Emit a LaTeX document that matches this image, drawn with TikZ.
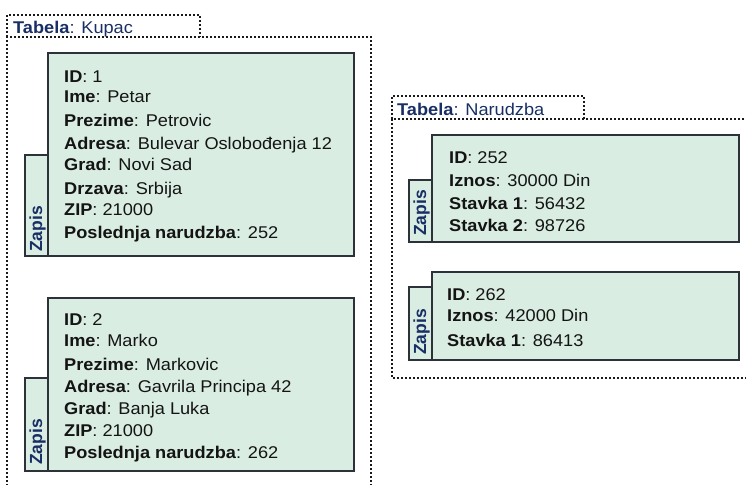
\documentclass[tikz,border=0pt]{standalone}
\usepackage{fontspec}
\setmainfont{Liberation Sans}[FakeStretch=1.07]
\newfontfamily\zapisfont{Liberation Sans}
\definecolor{navy}{RGB}{24,46,100}
\definecolor{recfill}{RGB}{218,237,226}
\definecolor{recline}{RGB}{45,50,58}
\definecolor{dotline}{RGB}{25,25,25}
\begin{document}
\begin{tikzpicture}[x=1pt,y=-1pt,
  tbl/.style={draw=dotline,line width=2.4pt,dash pattern=on 2pt off 2pt},
  recbox/.style={draw=recline,fill=recfill,line width=2.4pt,anchor=north west,inner sep=0pt},
  field/.style={anchor=base west,inner sep=0pt,font=\fontsize{17}{19}\selectfont,text=black!92},
  ttl/.style={anchor=base west,inner sep=0pt,font=\fontsize{17}{19}\selectfont,text=navy},
  zap/.style={anchor=base west,inner sep=0pt,rotate=90,font=\zapisfont\fontsize{17.5}{19}\selectfont\bfseries,text=navy}]
\useasboundingbox (0,0) rectangle (746,484);
\begin{scope}
\clip (0,0) rectangle (746,484);
% Kupac table
\coordinate (k1) at (7,37); \coordinate (k2) at (7,15); \coordinate (k3) at (200,15); \coordinate (k4) at (200,37);
\coordinate (k5) at (7,490); \coordinate (k6) at (371,37); \coordinate (k7) at (371,490);
\draw[tbl] (k1) -- (k2) -- (k3) -- (k4);
\draw[tbl] (k5) -- (k1) -- (k6) -- (k7);
\node[ttl] (kt) at (13,33.3) {\textbf{Tabela}: Kupac};
% Narudzba table
\coordinate (n1) at (392,119); \coordinate (n2) at (392,96); \coordinate (n3) at (584,96); \coordinate (n4) at (584,119);
\coordinate (n5) at (752,119); \coordinate (n6) at (392,378); \coordinate (n7) at (752,378);
\draw[tbl] (n1) -- (n2) -- (n3) -- (n4);
\draw[tbl] (n5) -- (n1) -- (n6) -- (n7);
\node[ttl] (nt) at (397,115) {\textbf{Tabela}: Narudzba};
\end{scope}
% Record 1
\node[recbox,minimum width=23pt,minimum height=101pt] (t1) at (24,154) {};
\node[recbox,minimum width=306pt,minimum height=203pt] (r1) at (47,52) {};
\node[zap] (z1) at (42,252) {Zapis};
\node[field] (a1) at (64,82.3) {\textbf{ID}: 1};
\node[field] (a2) at (64,102.7) {\textbf{Ime}: Petar};
\node[field] (a3) at (64,126) {\textbf{Prezime}: Petrovic};
\node[field] (a4) at (64,149) {\textbf{Adresa}: Bulevar Oslobođenja 12};
\node[field] (a5) at (64,170) {\textbf{Grad}: Novi Sad};
\node[field] (a6) at (64,194) {\textbf{Drzava}: Srbija};
\node[field] (a7) at (64,215) {\textbf{ZIP}: 21000};
\node[field] (a8) at (64,238) {\textbf{Poslednja narudzba}: 252};
% Record 2
\node[recbox,minimum width=23pt,minimum height=93pt] (t2) at (24,377) {};
\node[recbox,minimum width=306pt,minimum height=173pt] (r2) at (47,297) {};
\node[zap] (z2) at (42,465) {Zapis};
\node[field] (b1) at (64,325) {\textbf{ID}: 2};
\node[field] (b2) at (64,346.7) {\textbf{Ime}: Marko};
\node[field] (b3) at (64,370.7) {\textbf{Prezime}: Markovic};
\node[field] (b4) at (64,392.3) {\textbf{Adresa}: Gavrila Principa 42};
\node[field] (b5) at (64,414) {\textbf{Grad}: Banja Luka};
\node[field] (b6) at (64,436.7) {\textbf{ZIP}: 21000};
\node[field] (b7) at (64,458.3) {\textbf{Poslednja narudzba}: 262};
% Record 3
\node[recbox,minimum width=23pt,minimum height=62pt] (t3) at (408,179) {};
\node[recbox,minimum width=307pt,minimum height=107pt] (r3) at (431,134) {};
\node[zap] (z3) at (426,236) {Zapis};
\node[field] (c1) at (449,163.3) {\textbf{ID}: 252};
\node[field] (c2) at (449,186) {\textbf{Iznos}: 30000 Din};
\node[field] (c3) at (449,209.3) {\textbf{Stavka 1}: 56432};
\node[field] (c4) at (449,231.7) {\textbf{Stavka 2}: 98726};
% Record 4
\node[recbox,minimum width=23pt,minimum height=73pt] (t4) at (408,286) {};
\node[recbox,minimum width=307pt,minimum height=88pt] (r4) at (431,271) {};
\node[zap] (z4) at (426,355) {Zapis};
\node[field] (d1) at (447,300) {\textbf{ID}: 262};
\node[field] (d2) at (447,321.7) {\textbf{Iznos}: 42000 Din};
\node[field] (d3) at (447,346) {\textbf{Stavka 1}: 86413};
\end{tikzpicture}
\end{document}
